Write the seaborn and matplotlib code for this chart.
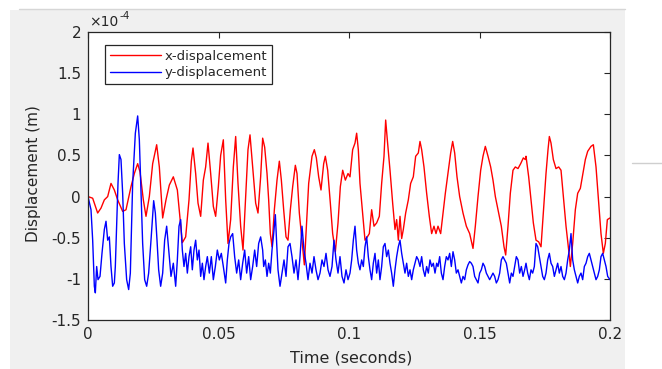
import numpy as np
import pandas as pd
import matplotlib
matplotlib.use("Agg")
import matplotlib.pyplot as plt
import seaborn as sns
from matplotlib.lines import Line2D
from matplotlib.patches import Rectangle

# ---------------- data (time in ms, displacement in units of 1e-4 m) ----------------
x_time_ms = [
    0.0, 1.79, 3.70, 4.98, 6.26, 7.54, 8.81, 10.09, 11.37, 13.28, 14.56, 16.47, 17.75, 19.03, 19.92,
    21.20, 22.22, 23.50, 24.78, 26.31, 27.33, 28.61, 29.88, 31.16, 32.69,
    34.23, 36.14, 37.42, 38.70, 39.59, 40.23, 41.25, 42.15, 43.17, 44.19, 45.08, 45.98, 47.00, 48.02,
    48.91, 49.94, 50.83, 51.85, 52.75, 53.64, 54.66, 55.68, 56.58, 57.47, 58.49, 59.39, 60.41, 61.30,
    62.07, 63.09, 64.24, 65.13, 66.15, 66.92,
    67.69, 68.59, 69.22, 69.86, 70.50, 71.40, 72.42, 73.31, 74.08, 74.97, 75.87, 76.63, 77.53, 78.42,
    79.44, 80.08, 80.97, 81.99, 82.89, 83.66, 84.55, 85.83, 86.72, 87.49, 88.38, 89.27, 90.30, 90.93,
    91.83, 92.85, 93.74, 94.77, 95.79, 96.68, 97.58, 98.60, 99.62,
    100.38, 101.40, 102.30, 102.93, 103.57, 104.21, 105.11, 106.13, 107.02, 107.79, 108.68, 109.58,
    110.60, 111.62, 112.51, 113.41, 114.05, 114.68, 115.71, 116.73, 117.62, 118.26, 118.90, 119.54,
    120.18, 120.81, 121.71, 122.73, 123.62, 124.64, 125.54, 126.56, 127.20, 127.84, 128.73, 129.75,
    130.77, 131.67, 132.56, 133.33,
    134.10, 135.12, 136.02, 136.91, 137.93, 138.95, 139.72, 140.49, 141.38, 142.40, 143.68, 144.96,
    146.23, 147.51, 148.40, 149.43, 150.45, 151.34, 152.23, 153.26, 154.28, 155.17, 156.07, 157.09,
    158.36, 159.39, 160.03, 160.92, 161.81, 162.83, 163.73, 164.75, 165.77, 166.79, 167.56,
    167.82, 168.84, 169.74, 170.63, 171.65, 172.67, 173.57, 174.46, 175.48, 176.25, 176.76, 177.40,
    178.29, 179.31, 180.34, 181.23, 182.12, 183.15, 184.17, 184.81, 185.70, 186.72, 187.62, 188.64,
    189.53, 190.55, 191.45, 192.72, 193.62, 194.64, 195.66, 196.55, 197.45, 198.21, 198.98, 200.0,
]
x_disp = [
    0.0, -0.02, -0.20, -0.14, -0.04, 0.0, 0.16, 0.08, -0.04, -0.18, -0.16, 0.12, 0.28, 0.40, 0.30,
    -0.04, -0.24, 0.0, 0.40, 0.63, 0.36, -0.26, -0.04, 0.14, 0.24,
    0.08, -0.56, -0.49, -0.04, 0.43, 0.59, 0.28, -0.08, -0.24, 0.20, 0.36, 0.65, 0.28, -0.12,
    -0.24, 0.12, 0.50, 0.69, -0.04, -0.57, -0.28, 0.36, 0.73, 0.16, -0.36, -0.65, 0.0, 0.57,
    0.75, 0.36, -0.08, -0.20, 0.24, 0.71,
    0.60, 0.28, -0.04, -0.45, -0.61, -0.16, 0.20, 0.43, 0.20, -0.16, -0.49, -0.53, -0.16, 0.12,
    0.38, 0.28, -0.20, -0.53, -0.83, -0.36, 0.16, 0.49, 0.57, 0.47, 0.24, 0.08, 0.40, 0.49,
    0.32, -0.08, -0.45, -0.67, -0.32, 0.12, 0.32, 0.20, 0.28,
    0.24, 0.57, 0.65, 0.77, 0.57, 0.16, -0.16, -0.53, -0.49, -0.45, -0.16, -0.36,
    -0.32, -0.24, 0.16, 0.49, 0.93, 0.69, 0.32, -0.08, -0.40, -0.28, -0.53, -0.24,
    -0.51, -0.40, -0.20, -0.04, 0.16, 0.24, 0.49, 0.53, 0.67, 0.57, 0.36, 0.04,
    -0.24, -0.45, -0.36, -0.45,
    -0.36, -0.45, -0.20, 0.04, 0.28, 0.53, 0.67, 0.53, 0.24, 0.0, -0.20, -0.36,
    -0.45, -0.63, -0.36, 0.0, 0.32, 0.49, 0.61, 0.49, 0.36, 0.20, 0.0, -0.16,
    -0.36, -0.61, -0.71, -0.36, 0.04, 0.32, 0.36, 0.34, 0.40, 0.47, 0.45,
    0.49, 0.24, -0.04, -0.32, -0.53, -0.55, -0.61, -0.20, 0.28, 0.57, 0.73, 0.65,
    0.45, 0.34, 0.36, 0.32, 0.0, -0.36, -0.65, -0.85, -0.57, -0.16, 0.04, 0.10,
    0.26, 0.45, 0.55, 0.61, 0.63, 0.36, -0.08, -0.45, -0.69, -0.57, -0.28, -0.26,
]

y_time_ms = [
    0.0, 1.15, 1.79, 2.43, 2.81, 3.32, 3.83, 4.60, 5.36, 6.26, 6.90, 7.54, 8.17, 8.81, 9.45, 10.09,
    10.47, 10.98, 11.49, 12.01, 12.64, 13.28, 13.92, 14.81, 15.58, 16.22, 17.11, 18.14, 19.03, 19.67,
    20.31, 20.94, 21.71, 22.48, 23.24, 24.14, 25.16, 25.80, 26.44, 27.07, 27.84, 28.61, 29.37, 30.14,
    30.91, 31.80, 32.69,
    33.59, 34.23, 34.87, 35.50, 36.14, 36.78, 37.42, 38.06, 38.70, 39.34, 39.97, 40.61, 41.25, 41.89,
    42.53, 43.17, 43.81, 44.44, 45.08, 45.72, 46.49, 47.25, 48.02, 48.79, 49.55, 50.32, 51.08, 51.85,
    52.75, 53.38, 54.02, 54.66, 55.43, 56.19, 56.96, 57.73, 58.49, 59.26, 60.03, 60.79, 61.56, 62.32,
    63.09, 63.86, 64.62, 65.39, 66.15, 66.92,
    67.31, 67.95, 68.59, 69.22, 69.86, 70.50, 71.14, 71.78, 72.29, 72.80, 73.57, 74.33, 75.10, 75.87,
    76.63, 77.40, 78.16, 78.93, 79.70, 80.46, 81.23, 81.99, 82.76, 83.53, 84.29, 85.06, 85.83, 86.59,
    87.36, 88.13, 88.89, 89.66, 90.42, 91.19, 91.96, 92.72, 93.49, 94.25, 95.02, 95.79, 96.55, 97.32,
    98.09, 98.85, 99.62,
    100.38, 101.02, 101.66, 102.30, 102.93, 103.57, 104.21, 104.85, 105.49, 106.13, 106.77, 107.40,
    108.04, 108.68, 109.32, 109.96, 110.60, 111.24, 111.87, 112.51, 113.15, 113.79, 114.43, 115.07,
    115.71, 116.34, 116.98, 117.62, 118.26, 118.90, 119.54, 120.18, 120.81, 121.45, 122.09, 122.73,
    123.37, 124.01, 124.64, 125.28, 125.92, 126.56, 127.20, 127.84, 128.47, 129.11, 129.75, 130.39,
    131.03, 131.67, 132.31, 132.95, 133.59,
    134.10, 134.74, 135.38, 136.02, 136.65, 137.29, 137.93, 138.57, 139.21, 139.85, 140.49, 141.12,
    141.76, 142.40, 143.04, 143.68, 144.32, 144.96, 145.59, 146.23, 146.87, 147.51, 148.15, 148.79,
    149.43, 150.06, 150.70, 151.34, 151.98, 152.62, 153.26, 153.90, 154.53, 155.17, 155.81, 156.45,
    157.09, 157.73, 158.36, 159.00, 159.64, 160.28, 160.92, 161.56, 162.20, 162.83, 163.47, 164.11,
    164.75, 165.39, 166.03, 166.67, 167.30,
    167.82, 168.46, 169.10, 169.74, 170.37, 171.01, 171.65, 172.29, 172.93, 173.57, 174.21, 174.84,
    175.48, 176.12, 176.76, 177.40, 178.04, 178.68, 179.31, 179.95, 180.59, 181.23, 181.87, 182.51,
    183.15, 183.78, 184.42, 185.06, 185.70, 186.34, 186.98, 187.62, 188.25, 188.89, 189.53, 190.17,
    190.81, 191.45, 192.08, 192.72, 193.36, 194.00, 194.64, 195.28, 195.92, 196.55, 197.19, 197.83,
    198.47, 199.11, 200.0,
]
y_disp = [
    0.0, -0.16, -0.53, -1.09, -1.17, -0.85, -1.01, -0.97, -0.69, -0.40, -0.30, -0.53, -0.49, -0.85,
    -1.09, -1.05, -0.85, -0.36, 0.16, 0.51, 0.45, 0.04, -0.57, -1.01, -1.13, -0.93, 0.16, 0.77,
    0.98, 0.69, 0.04, -0.57, -1.01, -1.09, -0.93, -0.53, -0.05, -0.20, -0.53, -0.89, -1.09, -0.93,
    -0.53, -0.36, -0.65, -0.97, -0.81,
    -1.09, -0.77, -0.36, -0.28, -0.65, -0.85, -0.69, -0.93, -0.73, -0.61, -0.89, -0.65, -0.53, -0.77,
    -0.65, -0.97, -0.81, -1.01, -0.85, -0.73, -0.93, -0.73, -1.01, -0.85, -0.65, -0.77, -0.69, -0.85,
    -1.05, -0.77, -0.57, -0.49, -0.45, -0.73, -0.93, -0.77, -1.01, -0.81, -0.65, -0.93, -0.73, -1.01,
    -0.85, -0.65, -0.85, -0.57, -0.49, -0.65,
    -0.85, -0.77, -0.97, -0.81, -0.93, -0.65, -0.45, -0.22, -0.57, -0.89, -1.09, -0.93, -0.77, -0.97,
    -0.61, -0.57, -0.73, -0.93, -0.77, -1.01, -0.73, -0.36, -0.65, -0.81, -1.01, -0.81, -0.93, -0.73,
    -0.89, -1.01, -0.93, -0.77, -0.85, -0.69, -0.89, -0.97, -0.85, -0.53, -0.77, -0.93, -0.73, -0.97,
    -1.05, -0.89, -1.01,
    -0.93, -0.77, -0.53, -0.36, -0.65, -0.81, -0.89, -0.77, -0.85, -0.61, -0.49, -0.73,
    -0.89, -1.01, -0.81, -0.69, -0.93, -0.77, -1.01, -0.85, -0.61, -0.57, -0.73, -0.65,
    -0.81, -0.93, -1.09, -0.89, -0.73, -0.61, -0.53, -0.69, -0.81, -0.93, -0.81, -0.97,
    -0.89, -1.01, -0.89, -0.81, -0.73, -0.77, -0.85, -0.73, -0.89, -0.97, -0.85, -0.93,
    -0.77, -0.85, -0.81, -0.93, -0.81,
    -0.85, -0.73, -0.93, -1.01, -0.85, -0.73, -0.77, -0.69, -0.85, -0.67, -0.77, -0.93,
    -0.89, -0.97, -1.05, -0.97, -1.01, -0.89, -0.83, -0.79, -0.81, -0.85, -0.97, -1.01,
    -1.05, -0.93, -0.89, -0.81, -0.85, -0.93, -0.97, -1.01, -0.97, -0.93, -0.97, -1.05,
    -1.01, -0.93, -0.77, -0.73, -0.77, -0.81, -0.93, -1.05, -0.93, -0.97, -0.85, -0.73,
    -0.77, -0.93, -0.85, -0.97, -0.89,
    -0.81, -0.93, -1.01, -0.89, -0.93, -0.85, -0.57, -0.61, -0.73, -0.85, -0.97, -1.01,
    -0.93, -0.77, -0.69, -0.81, -0.85, -0.97, -0.89, -0.81, -0.93, -0.85, -0.97, -1.01,
    -0.93, -0.77, -0.65, -0.45, -0.77, -0.89, -0.97, -1.05, -0.97, -0.93, -1.01, -0.85,
    -0.81, -0.73, -0.69, -0.77, -0.85, -0.93, -1.01, -0.97, -0.89, -0.73, -0.69, -0.77,
    -0.85, -0.97, -1.01,
]

series_names = ["x-dispalcement", "y-displacement"]
series_colors = ["#ff0000", "#0000ff"]
x_ticks = [0, 0.05, 0.1, 0.15, 0.2]
x_tick_labels = ["0", "0.05", "0.1", "0.15", "0.2"]
y_ticks = [-1.5, -1, -0.5, 0, 0.5, 1, 1.5, 2]
y_tick_labels = ["-1.5", "-1", "-0.5", "0", "0.5", "1", "1.5", "2"]

df = pd.concat([
    pd.DataFrame({"t": np.array(x_time_ms) / 1000.0, "v": x_disp, "series": series_names[0]}),
    pd.DataFrame({"t": np.array(y_time_ms) / 1000.0, "v": y_disp, "series": series_names[1]}),
], ignore_index=True)

# ---------------- figure ----------------
sns.set_style("white")
plt.rcParams["font.family"] = ["DejaVu Sans"]
txt = "#262626"

W, H = 662, 369
fig = plt.figure(figsize=(W / 100, H / 100), dpi=100, facecolor="white")
fig.patches.append(Rectangle((10 / W, 0), (625 - 10) / W, (H - 10) / H, transform=fig.transFigure,
                             facecolor="#f0f0f0", edgecolor="none", zorder=-10))
fig.lines.append(Line2D([19 / W, 625 / W], [1 - 9 / H, 1 - 9 / H], transform=fig.transFigure,
                        color="#d6d6d6", lw=1))
fig.lines.append(Line2D([632 / W, 1.0], [1 - 163 / H, 1 - 163 / H], transform=fig.transFigure,
                        color="#cfcfcf", lw=1))

ax = fig.add_axes([88 / W, 1 - 320 / H, (610 - 88) / W, (320 - 32) / H])
ax.set_facecolor("white")
sns.lineplot(data=df, x="t", y="v", hue="series", hue_order=series_names,
             palette=dict(zip(series_names, series_colors)), sort=False, estimator=None,
             linewidth=1.0, legend=False, ax=ax)

ax.set_xlim(0, 0.2)
ax.set_ylim(-1.5, 2)
ax.set_xticks(x_ticks)
ax.set_xticklabels(x_tick_labels)
ax.set_yticks(y_ticks)
ax.set_yticklabels(y_tick_labels)
ax.set_xlabel("")
ax.set_ylabel("")
ax.tick_params(direction="in", top=True, right=True, length=4, width=0.8, colors=txt,
               labelsize=11, pad=5)
for s in ax.spines.values():
    s.set_visible(True)
    s.set_color(txt)
    s.set_linewidth(0.9)

fig.text(351 / W, 1 - 358 / H, "Time (seconds)", ha="center", va="center", fontsize=11.5, color=txt)
fig.text(34 / W, 1 - 174 / H, "Displacement (m)", ha="center", va="center", rotation=90,
         fontsize=11, color=txt)
fig.text(89 / W, 1 - 26 / H, "×10", ha="left", va="baseline", fontsize=10, color=txt)
fig.text(119 / W, 1 - 19 / H, "-4", ha="left", va="baseline", fontsize=7.5, color=txt)

handles = [Line2D([], [], color=c, lw=1.0) for c in series_colors]
leg = ax.legend(handles, series_names, loc="upper left", bbox_to_anchor=(105 / W, 1 - 45 / H),
                bbox_transform=fig.transFigure, borderaxespad=0, frameon=True, fancybox=False,
                framealpha=1, edgecolor="#262626", fontsize=9.5, handlelength=3.9,
                handletextpad=0.3, borderpad=0.35, labelspacing=0.28)
leg.get_frame().set_linewidth(0.9)
for t in leg.get_texts():
    t.set_color(txt)

fig.savefig("out.png", dpi=100, facecolor=fig.get_facecolor())
